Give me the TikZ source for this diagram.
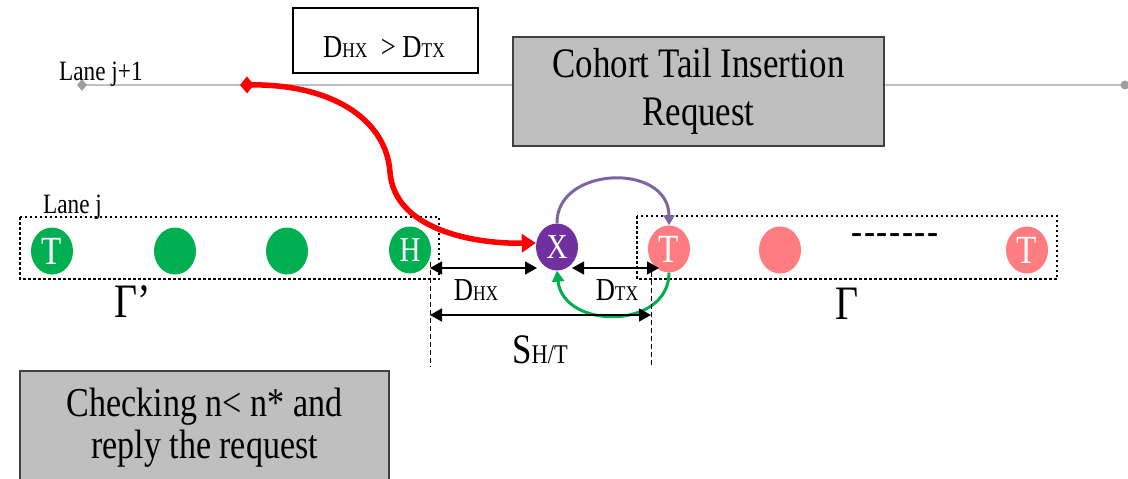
\documentclass[tikz,border=0pt]{standalone}
\usepackage{fontspec}
\setmainfont{Liberation Serif}[FakeStretch=0.83]
\usetikzlibrary{arrows.meta,shapes.geometric,backgrounds}
\definecolor{vgreen}{HTML}{00B050}
\definecolor{vpink}{HTML}{FF7C80}
\definecolor{vpurple}{HTML}{7030A0}
\definecolor{arcpurple}{HTML}{8064A2}
\definecolor{boxgray}{HTML}{BFBFBF}
\definecolor{boxedge}{HTML}{404040}
\definecolor{lanegray}{HTML}{8C8C8C}
\definecolor{lightlane}{HTML}{C0C0C0}
\newcommand{\myfs}[2]{\fontsize{#1pt}{#2pt}\selectfont}
\newcommand{\sm}[1]{{\myfs{21}{21}#1}}
\newcommand{\hy}{-\kern1.6pt}
\tikzset{
  veh/.style={ellipse, minimum width=42pt, minimum height=47pt, inner sep=0pt, text=white},
  gveh/.style={veh, fill=vgreen},
  pveh/.style={veh, fill=vpink},
  xveh/.style={veh, fill=vpurple},
  dotbox/.style={draw=black, line width=2.5pt, dash pattern=on 2.5pt off 2.5pt},
  graybox/.style={draw=boxedge, fill=boxgray, line width=1.5pt},
  dimarrow/.style={draw=black, line width=1.5pt, {Triangle[length=12pt,width=13pt]}-{Triangle[length=12pt,width=13pt]}},
  guide/.style={draw=black, line width=1pt, dash pattern=on 5pt off 3pt},
  lbl/.style={inner sep=0pt}
}
\begin{document}
\begin{tikzpicture}[x=1pt,y=-1pt]
\clip (0,0) rectangle (1128,479);
\fill[white] (0,0) rectangle (1128,479);

% upper lane j+1
\coordinate (l1s) at (82,85);
\coordinate (l1e) at (1125,85);
\coordinate (rd) at (240,85);
\draw[lightlane, line width=2pt] (l1s) -- (l1e);
\node[diamond, fill=gray!75, minimum width=10pt, minimum height=12pt, inner sep=0pt] at (l1s) {};
\fill[gray!75] (l1e) circle (4.5pt);
\node[lbl, anchor=base west, font=\myfs{28}{28}] (lj1) at (59,80) {Lane j+1};

% boxes
\node[draw=black, line width=1.5pt, fill=white, minimum width=185pt, minimum height=65pt, inner sep=0pt] (cond) at (385.5,40.5) {};
\node[lbl, anchor=base, font=\myfs{32}{32}] (condt) at (384,57) {D\sm{HX}\ \ > D\sm{TX}};
\node[graybox, minimum width=371pt, minimum height=109pt, inner sep=0pt, align=center, font=\myfs{42}{48}] (req) at (698.5,91.5) {Cohort Tail Insertion\\Request};
\node[graybox, minimum width=369pt, minimum height=130pt, inner sep=0pt] (chk) at (204.5,436) {};
\node[lbl, align=center, font=\myfs{41}{42}] (chkt) at (204.5,428) {Checking n< n* and\\reply the request};

% lane j vehicles
\node[lbl, anchor=base west, font=\myfs{28}{28}] (lj) at (43,213) {Lane j};
\node[gveh, font=\myfs{40}{40}] (g1) at (52,251) {T};
\node[gveh] (g2) at (175,251) {};
\node[gveh] (g3) at (287,251) {};
\node[gveh, font=\myfs{35}{35}] (gH) at (410,250) {H};
\node[xveh, font=\myfs{35}{35}] (X) at (557,247) {X};
\node[pveh, font=\myfs{40}{40}] (p1) at (669,249) {T};
\node[pveh] (p2) at (780,250) {};
\node[pveh, font=\myfs{40}{40}] (p3) at (1027,250) {T};
\node[lbl, font=\myfs{40}{40}] (dots) at (895,239) {\hy\hy\hy\hy\hy\hy-};
\begin{scope}[on background layer]
\draw[lanegray, line width=3pt] (g1.center) -- (p3.center);
\end{scope}

% dotted group boxes
\draw[dotbox] (20,217) rectangle (439,279);
\draw[dotbox] (637,216) rectangle (1057,279);
\node[lbl, font=\myfs{48}{48}] (gp) at (133,302) {Γ’};
\node[lbl, font=\myfs{48}{48}] (g) at (847,304) {Γ};

% red request curve
\draw[red, line width=5.5pt, {Diamond[length=14pt,width=17pt]}-{Triangle[length=14pt,width=18pt]}]
  (rd) .. controls (330,84) and (386,118) .. (390,172) .. controls (394,228) and (470,244) .. ([yshift=4pt]X.west);

% purple and green arcs
\draw[arcpurple, line width=3pt, -{Triangle[length=10pt,width=11pt]}] (X.north) .. controls (556,166) and (669,162) .. (p1.north);
\draw[vgreen, line width=3pt, -{Triangle[length=11pt,width=12pt]}] (p1.south) .. controls (669,330) and (563,330) .. (X.south);

% dimension guides
\coordinate (vLt) at (430,262); \coordinate (vLb) at (430,367);
\coordinate (vRt) at (651,264); \coordinate (vRb) at (651,367);
\draw[guide] (vLt) -- (vLb);
\draw[guide] (vRt) -- (vRb);
\coordinate (a1) at (430,268); \coordinate (a2) at (537,268);
\coordinate (b1) at (572,268); \coordinate (b2) at (659,268);
\coordinate (s1) at (430,315); \coordinate (s2) at (651,315);
\draw[dimarrow] (a1) -- (a2);
\draw[dimarrow] (b1) -- (b2);
\draw[dimarrow] (s1) -- (s2);
\node[lbl, anchor=base, font=\myfs{32}{32}] (dhx) at (476,300) {D\sm{HX}};
\node[lbl, anchor=base, font=\myfs{32}{32}] (dtx) at (617,300) {D\sm{TX}};
\node[lbl, anchor=base, font=\myfs{42}{42}] (sht) at (540,363) {S{\myfs{27}{27}H/T}};
\end{tikzpicture}
\end{document}
